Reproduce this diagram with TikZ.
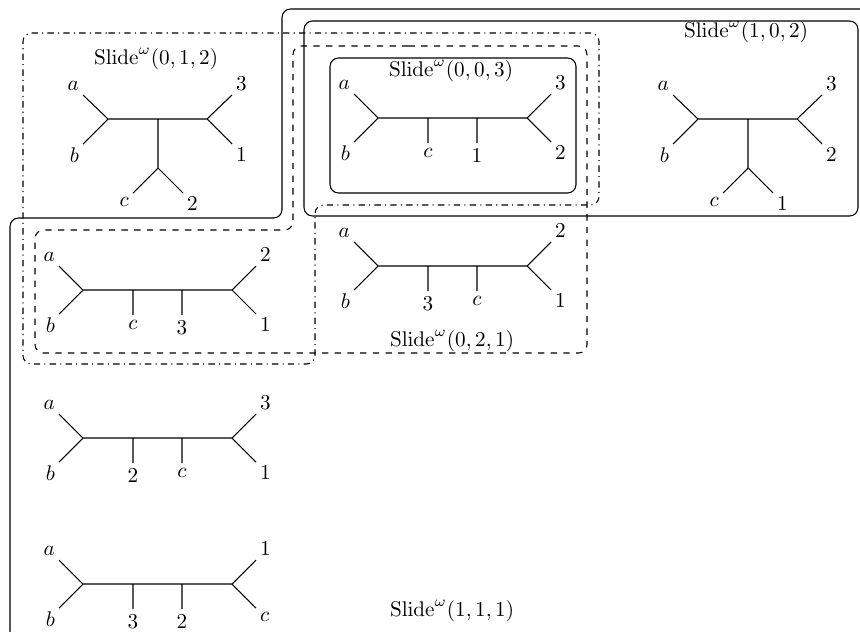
\documentclass[tikz,border=0pt]{standalone}
\usepackage{amsmath}
\usepackage{tikz}
\usetikzlibrary{positioning}
\tikzset{
	leaflabel/.style={inner sep=1.7pt},
	pendlabel/.style={below, inner sep=2.4pt},
	slidebox/.style={rounded corners=4pt},
	% caterpillar tree: left cherry, two pendant leaves, right cherry
	pics/caterpillar/.style n args={6}{code={
		\coordinate (-l) at (0,0);
		\coordinate (-u) at (50,0);
		\coordinate (-v) at (99,0);
		\coordinate (-r) at (149,0);
		\coordinate (-ea) at (-24,-24);
		\coordinate (-eb) at (-24,24);
		\coordinate (-eu) at (50,25);
		\coordinate (-ev) at (99,25);
		\coordinate (-ee) at (173,-24);
		\coordinate (-ef) at (173,24);
		\draw (-ea) -- (-l) -- (-eb) (-l) -- (-r) (-u) -- (-eu) (-v) -- (-ev) (-ee) -- (-r) -- (-ef);
		\node[leaflabel, anchor=south east] (-a) at (-ea) {#1};
		\node[leaflabel, anchor=north east] (-b) at (-eb) {#2};
		\node[pendlabel] (-cu) at (-eu) {#3};
		\node[pendlabel] (-cv) at (-ev) {#4};
		\node[leaflabel, anchor=south west] (-e) at (-ee) {#5};
		\node[leaflabel, anchor=north west] (-f) at (-ef) {#6};
	}},
	% three cherries around one central edge
	pics/ytree/.style n args={6}{code={
		\coordinate (-l) at (0,0);
		\coordinate (-m) at (50,0);
		\coordinate (-r) at (99,0);
		\coordinate (-d) at (50,49);
		\coordinate (-ea) at (-25,-24);
		\coordinate (-eb) at (-25,25);
		\coordinate (-ec) at (25,74);
		\coordinate (-ed) at (75,74);
		\coordinate (-ee) at (124,-24);
		\coordinate (-ef) at (124,25);
		\draw (-ea) -- (-l) -- (-eb) (-l) -- (-r) (-m) -- (-d) (-ec) -- (-d) -- (-ed) (-ee) -- (-r) -- (-ef);
		\node[leaflabel, anchor=south east] (-a) at (-ea) {#1};
		\node[leaflabel, anchor=north east] (-b) at (-eb) {#2};
		\node[leaflabel, anchor=north east] (-c) at (-ec) {#3};
		\node[leaflabel, anchor=north west] (-d2) at (-ed) {#4};
		\node[leaflabel, anchor=south west] (-e) at (-ee) {#5};
		\node[leaflabel, anchor=north west] (-f) at (-ef) {#6};
	}},
}

\begin{document}
\begin{tikzpicture}[x=0.0166cm, y=-0.0166cm, line width=0.5pt]
	\clip (0,0) rectangle (860,631);
	% Slide(1,1,1): L-shaped box running off the page
	\draw[slidebox] (400,9) -- (900,9) -- (900,640) -- (10,640) -- (10,218) -- (282,218) -- (282,9) -- cycle;
	% Slide(1,0,2) and Slide(0,0,3)
	\draw[slidebox] (304,21) rectangle (858,216);
	\draw[slidebox] (330,58) rectangle (576,193);
	% Slide(0,1,2): dash-dotted
	\draw[slidebox, dash dot] (100,33) -- (599,33) -- (599,205) -- (315,205) -- (315,364) -- (23,364) -- (23,33) -- cycle;
	% Slide(0,2,1): dashed
	\draw[slidebox, dashed] (400,46) -- (587,46) -- (587,353) -- (35,353) -- (35,230) -- (293,230) -- (293,46) -- cycle;
	% box labels
	\node (s012) at (156,59) {$\mathrm{Slide}^{\omega}(0,1,2)$};
	\node (s003) at (451,71) {$\mathrm{Slide}^{\omega}(0,0,3)$};
	\node (s102) at (746,32) {$\mathrm{Slide}^{\omega}(1,0,2)$};
	\node (s021) at (452,341) {$\mathrm{Slide}^{\omega}(0,2,1)$};
	\node (s111) at (452,611) {$\mathrm{Slide}^{\omega}(1,1,1)$};
	% trees
	\pic (t012) at (108,119) {ytree={$a$}{$b$}{$c$}{$2$}{$3$}{$1$}};
	\pic (t102) at (698,119) {ytree={$a$}{$b$}{$c$}{$1$}{$3$}{$2$}};
	\pic (t003) at (378,118) {caterpillar={$a$}{$b$}{$c$}{$1$}{$3$}{$2$}};
	\pic (tcl) at (83,290) {caterpillar={$a$}{$b$}{$c$}{$3$}{$2$}{$1$}};
	\pic (tcr) at (378,266) {caterpillar={$a$}{$b$}{$3$}{$c$}{$2$}{$1$}};
	\pic (t2c) at (83,438) {caterpillar={$a$}{$b$}{$2$}{$c$}{$3$}{$1$}};
	\pic (t32) at (83,584) {caterpillar={$a$}{$b$}{$3$}{$2$}{$1$}{$c$}};
\end{tikzpicture}
\end{document}
